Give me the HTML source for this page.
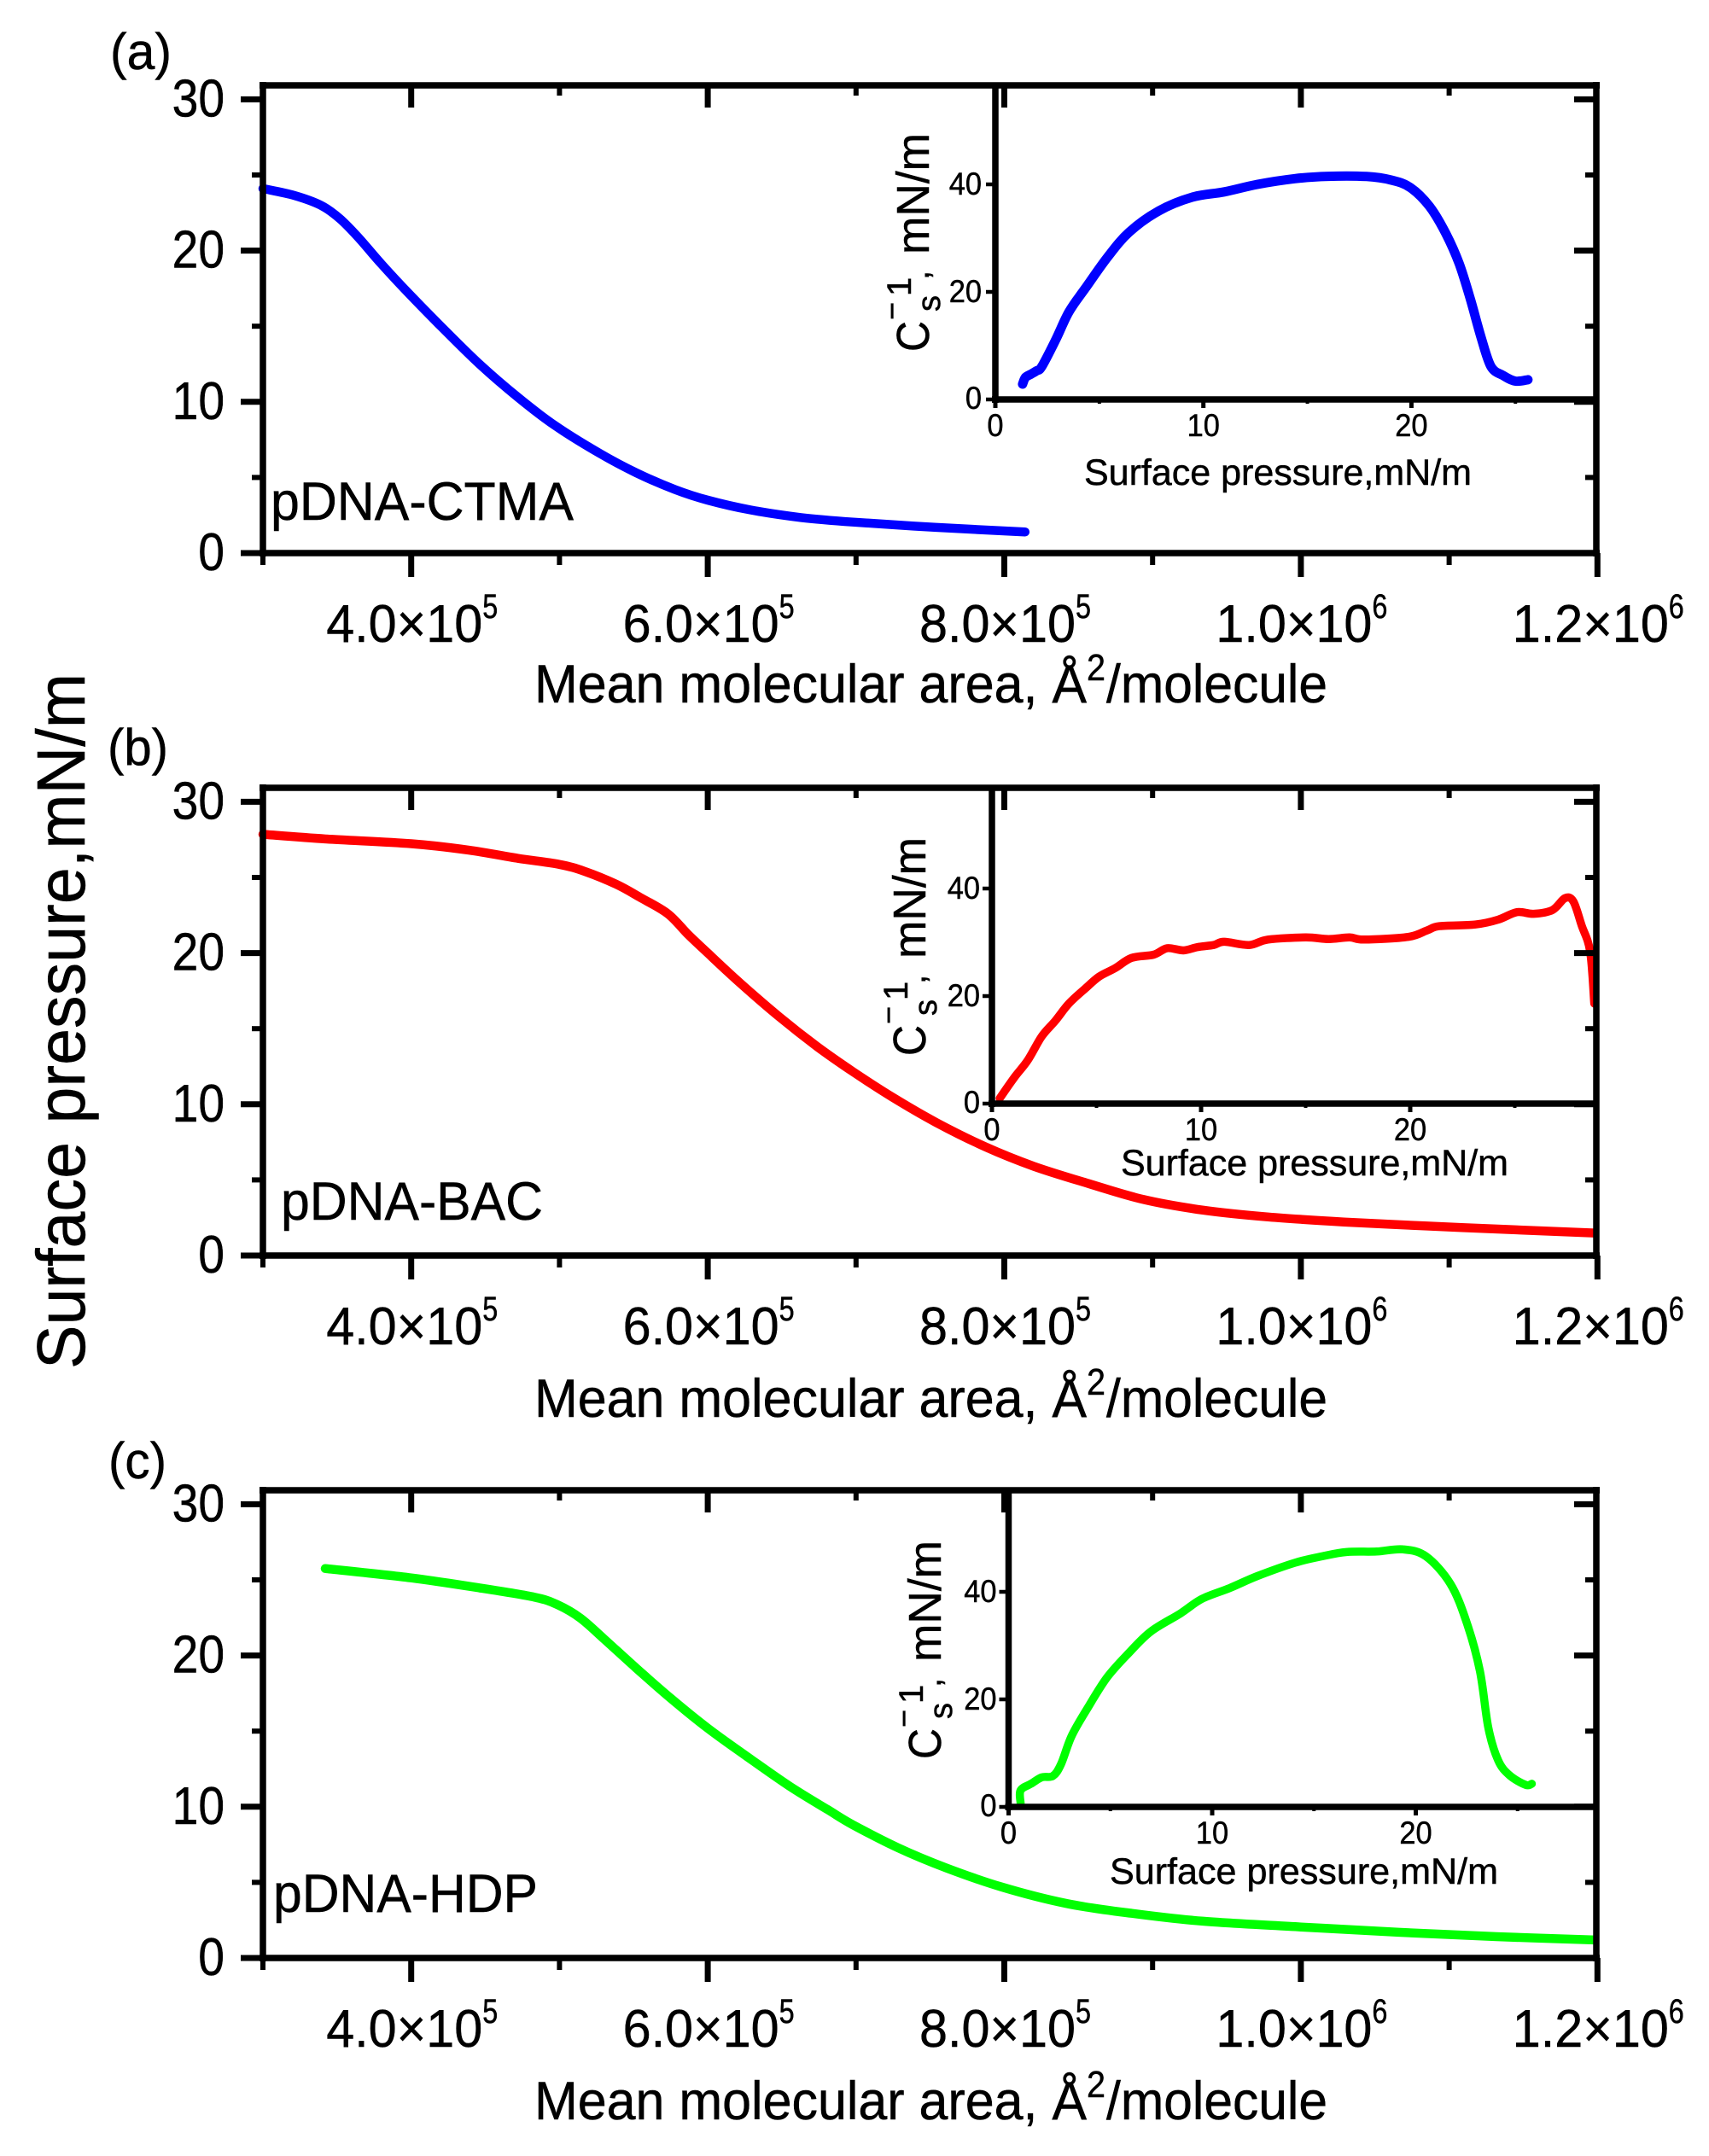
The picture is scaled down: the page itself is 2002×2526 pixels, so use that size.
<!DOCTYPE html>
<html lang="en">
<head>
<meta charset="utf-8">
<title>Surface pressure isotherms</title>
<style>
html,body{margin:0;padding:0;background:#fff;}
svg{display:block;}
text{font-family:"Liberation Sans",Arial,sans-serif;fill:#000;stroke:#000;stroke-width:0.5px;}
</style>
</head>
<body>
<svg id="figure" xmlns="http://www.w3.org/2000/svg" width="2002" height="2526" viewBox="0 0 2002 2526">
<rect x="0" y="0" width="2002" height="2526" fill="#fff"/>
</svg>
<script>
// ---------- data: main isotherms (mean molecular area, surface pressure) ----------
const areaA = [3.0e5,3.21e5,3.39e5,3.52e5,3.65e5,3.80e5,4.0e5,4.2e5,4.46e5,4.72e5,4.97e5,5.27e5,5.52e5,5.78e5,6.0e5,6.29e5,6.63e5,6.98e5,7.54e5,8.14e5];
const pressureA = [24.1,23.65,23.0,22.1,20.8,19.1,17.0,15.0,12.5,10.3,8.43,6.6,5.3,4.2,3.5,2.85,2.35,2.05,1.7,1.4];

const areaB = [3.0e5,3.43e5,4.0e5,4.39e5,4.72e5,5.0e5,5.17e5,5.38e5,5.54e5,5.73e5,5.87e5,6.0e5,6.22e5,6.48e5,6.74e5,6.98e5,7.24e5,7.54e5,7.87e5,8.2e5,8.57e5,8.94e5,9.34e5,9.78e5,10.29e5,10.85e5,11.4e5,11.98e5];
const pressureB = [27.85,27.54,27.23,26.8,26.26,25.86,25.4,24.56,23.7,22.6,21.2,20.0,18.0,15.8,13.8,12.15,10.5,8.8,7.2,5.9,4.75,3.7,3.0,2.55,2.22,1.95,1.72,1.49];

const areaC = [3.42e5,4.0e5,4.46e5,4.83e5,4.99e5,5.14e5,5.3e5,5.52e5,5.75e5,6.0e5,6.26e5,6.55e5,6.81e5,6.98e5,7.28e5,7.61e5,7.98e5,8.42e5,8.86e5,9.34e5,10.0e5,10.66e5,11.32e5,11.98e5];
const pressureC = [25.75,25.13,24.47,23.86,23.34,22.48,21.1,19.14,17.17,15.19,13.35,11.37,9.8,8.8,7.3,5.95,4.7,3.6,2.95,2.43,2.05,1.7,1.41,1.19];

// ---------- data: inset compression modulus (surface pressure, modulus) ----------
const insetPressureA = [1.31,1.44,1.71,1.97,2.23,2.89,3.54,4.33,5.38,6.43,7.87,9.45,11.0,12.6,14.4,16,17.85,19.03,19.95,20.87,21.65,22.3,22.83,23.36,23.83,24.4,24.99,25.6];
const insetModulusA = [2.85,4.07,4.7,5.3,6.1,11,16.3,20.7,26.4,31.1,35.1,37.6,38.6,40,41.06,41.5,41.46,40.8,39.4,35.9,30.9,25.2,18.7,11.4,6.1,4.47,3.41,3.66];

const insetPressureB = [0.37,1.07,1.72,2.38,3.03,3.68,4.46,5.12,5.9,6.68,7.73,8.38,9.16,9.82,10.6,11.1,12.3,13.2,15.0,16.1,17.1,17.8,19.9,20.8,21.4,23.1,24.2,25.1,25.9,26.8,27.4,27.8,28.2,28.6,28.8];
const insetModulusB = [0.97,4.85,8.1,12.5,15.4,18.6,21.4,23.6,25.2,27.1,27.7,28.9,28.5,29.1,29.5,30.1,29.5,30.5,30.9,30.6,30.9,30.5,31,32.2,33,33.3,34.2,35.6,35.3,36,38.2,37.6,33.1,28.3,18.6];

const insetPressureC = [0.59,0.59,1.1,1.63,2.17,2.57,3.1,3.9,4.84,5.9,6.98,8.45,9.5,10.86,12.2,14.06,15.4,16.6,18.07,19.36,20.5,21.7,22.5,23.15,23.56,24.04,24.6,25.4,25.7];
const insetModulusC = [0.65,3.08,4.3,5.5,5.75,7.9,13.2,18.5,24.1,28.6,32.6,36,38.7,40.7,42.9,45.4,46.6,47.4,47.5,47.9,46.6,41.5,34.3,25.3,14.8,8.7,5.9,4.1,4.3];

// ---------- data: ticks and labels ----------
const mainXMajor = [4e5,6e5,8e5,1e6,1.2e6];
const mainXMinor = [3e5,5e5,7e5,9e5,1.1e6];
const mainXMantissas = ['4.0×10','6.0×10','8.0×10','1.0×10','1.2×10'];
const mainXExponents = ['5','5','5','6','6'];
const mainYMajor = [0,10,20,30];
const mainYMinor = [5,15,25];
const mainYLabels = ['0','10','20','30'];
const insetXMajor = [0,10,20];
const insetXMinor = [5,15,25];
const insetXLabels = ['0','10','20'];
const insetYMajor = [0,20,40];
const insetYLabels = ['0','20','40'];

// ---------- layout ----------
const SVGNS = 'http://www.w3.org/2000/svg';
const figure = document.getElementById('figure');
const LEFT = 308, RIGHT = 1870;

function line(parent, x1, y1, x2, y2, w, name, cap) {
  const el = document.createElementNS(SVGNS, 'line');
  
  
  el.setAttribute('x1', x1);
  el.setAttribute('y1', y1);
  el.setAttribute('x2', x2);
  el.setAttribute('y2', y2);
  el.setAttribute('stroke', '#000');
  el.setAttribute('stroke-width', w);
  el.setAttribute('stroke-linecap', cap || 'butt');
  parent.appendChild(el);
  return el;
}

function text(parent, str, x, y, size, name, anchor, len, rot, sx) {
  const el = document.createElementNS(SVGNS, 'text');
  
  
  el.setAttribute('font-size', size);
  if (anchor) el.setAttribute('text-anchor', anchor);
  if (len) {
    el.setAttribute('textLength', len);
    el.setAttribute('lengthAdjust', 'spacingAndGlyphs');
  }
  let t = 'translate(' + x + ' ' + y + ')';
  if (rot) t += ' rotate(' + rot + ')';
  if (sx) t += ' scale(' + sx + ' 1)';
  el.setAttribute('transform', t);
  el.textContent = str;
  parent.appendChild(el);
  return el;
}

function group(parent, name) {
  const g = document.createElementNS(SVGNS, 'g');
  
  
  parent.appendChild(g);
  return g;
}

function curve(parent, xs, ys, sx, sy, color, width, name) {
  const pts = xs.map(function (v, i) { return [sx(v), sy(ys[i])]; });
  // Catmull-Rom smoothing through the sampled points
  let d = 'M' + pts[0][0].toFixed(1) + ' ' + pts[0][1].toFixed(1);
  for (let i = 0; i < pts.length - 1; i++) {
    const p0 = pts[Math.max(i - 1, 0)], p1 = pts[i], p2 = pts[i + 1], p3 = pts[Math.min(i + 2, pts.length - 1)];
    const c1x = p1[0] + (p2[0] - p0[0]) / 6, c1y = p1[1] + (p2[1] - p0[1]) / 6;
    const c2x = p2[0] - (p3[0] - p1[0]) / 6, c2y = p2[1] - (p3[1] - p1[1]) / 6;
    d += 'C' + c1x.toFixed(1) + ' ' + c1y.toFixed(1) + ' ' + c2x.toFixed(1) + ' ' + c2y.toFixed(1) + ' ' + p2[0].toFixed(1) + ' ' + p2[1].toFixed(1);
  }
  const el = document.createElementNS(SVGNS, 'path');
  
  
  el.setAttribute('d', d);
  el.setAttribute('fill', 'none');
  el.setAttribute('stroke', color);
  el.setAttribute('stroke-width', width);
  el.setAttribute('stroke-linecap', 'round');
  el.setAttribute('stroke-linejoin', 'round');
  parent.appendChild(el);
  return el;
}

function drawPanel(cfg) {
  const g = group(figure, cfg.id + '-panel');
  const xMain = function (v) { return LEFT + (v - 3e5) / 2e5 * 347.4; };
  const yMain = function (v) { return cfg.y0 - v * 17.72; };
  const top = cfg.top;

  // main curve
  curve(g, cfg.xs, cfg.ys, xMain, yMain, cfg.color, 10.5, cfg.id + '-main-curve');

  // inset background
  const ins = cfg.inset;
  const bg = document.createElementNS(SVGNS, 'rect');
  
  
  bg.setAttribute('x', ins.x0);
  bg.setAttribute('y', top);
  bg.setAttribute('width', RIGHT - ins.x0);
  bg.setAttribute('height', ins.y0 - top);
  bg.setAttribute('fill', '#fff');
  g.appendChild(bg);

  const xIns = function (v) { return ins.x0 + v * ins.xScale; };
  const yIns = function (v) { return ins.y0 - v * 6.3; };
  curve(g, ins.xs, ins.ys, xIns, yIns, cfg.color, ins.width, cfg.id + '-inset-curve');

  // inset axes
  line(g, ins.x0, top, ins.x0, ins.y0 + 4, 7.5, 'inset-y-axis');
  line(g, ins.x0 - 4, ins.y0, RIGHT, ins.y0, 7.5, 'inset-x-axis');
  insetYMajor.forEach(function (v, i) {
    line(g, ins.x0 - 11, yIns(v), ins.x0, yIns(v), 4.5, 'inset-y-tick');
    text(g, insetYLabels[i], ins.x0 - ins.yLabelGap, yIns(v) + (v === 0 ? 11 : 12), 37, 'inset-y-tick-label', 'end', null, null, 0.93);
  });
  insetXMajor.forEach(function (v, i) {
    line(g, xIns(v), ins.y0, xIns(v), ins.y0 + 10, 5, 'inset-x-tick');
    text(g, insetXLabels[i], xIns(v), ins.y0 + 43, 37, 'inset-x-tick-label', 'middle', null, null, 0.93);
  });
  insetXMinor.forEach(function (v) {
    line(g, xIns(v), ins.y0, xIns(v), ins.y0 + 5, 4, 'inset-x-minor-tick');
  });
  text(g, 'Surface pressure,mN/m', ins.titleX, ins.titleY, 43, 'inset-x-axis-title', 'start', ins.titleLen);

  // inset y-axis title
  const bx = ins.x0 + ins.ylabOffset, base = ins.y0 - 56;
  text(g, 'C', bx, base, 54, 'inset-y-title-symbol', 'start', 36, -90);
  text(g, '−', bx - 31, base - 37, 36, 'inset-y-title-minus', 'start', null, -90);
  text(g, '1', bx - 21, base - 65, 40, 'inset-y-title-exponent', 'start', null, -90);
  text(g, 's', bx + 13, base - 47, 38, 'inset-y-title-subscript', 'start', null, -90);
  text(g, ',', bx, base - 84, 40, 'inset-y-title-comma', 'start', null, -90);
  text(g, 'mN/m', bx, base - 114, 54, 'inset-y-title-unit', 'start', 142, -90);

  // main frame
  line(g, LEFT, top - 4, LEFT, cfg.y0 + 4, 7.5, 'left-spine');
  line(g, RIGHT, top - 4, RIGHT, cfg.y0 + 4, 7.5, 'right-spine');
  line(g, LEFT - 4, top, RIGHT + 4, top, 7.5, 'top-spine');
  line(g, LEFT - 4, cfg.y0, RIGHT + 4, cfg.y0, 7.5, 'bottom-spine');

  // main ticks
  mainYMajor.forEach(function (v, i) {
    line(g, LEFT - 26, yMain(v), LEFT, yMain(v), 7, 'y-major-tick');
    if (v > 0) line(g, RIGHT - 26, yMain(v), RIGHT, yMain(v), 7, 'right-major-tick');
    text(g, mainYLabels[i], 263, yMain(v) + 20, 62, 'y-tick-label', 'end', null, null, 0.89);
  });
  mainYMinor.forEach(function (v) {
    line(g, LEFT - 13, yMain(v), LEFT, yMain(v), 6, 'y-minor-tick');
    line(g, RIGHT - 13, yMain(v), RIGHT, yMain(v), 6, 'right-minor-tick');
  });
  mainXMajor.forEach(function (v, i) {
    const x = xMain(v);
    line(g, x, cfg.y0, x, cfg.y0 + 28, 7, 'x-major-tick');
    if (v < 1.2e6) line(g, x, top, x, top + 26, 7, 'top-major-tick');
    const sx = x - 99.5;
    text(g, mainXMantissas[i], sx, cfg.y0 + 104, 62, 'x-tick-label', 'start', 183);
    text(g, mainXExponents[i], sx + 183, cfg.y0 + 76, 40, 'x-tick-exponent', 'start', 18);
  });
  mainXMinor.forEach(function (v) {
    const x = xMain(v);
    line(g, x, cfg.y0, x, cfg.y0 + 14, 6, 'x-minor-tick');
    if (v > 3e5) line(g, x, top, x, top + 12, 6, 'top-minor-tick');
  });

  // main x-axis title
  const ty = cfg.titleY;
  text(g, 'Mean molecular area, Å', 626, ty, 63, 'x-axis-title', 'start', 647);
  text(g, '2', 1273, ty - 26, 44, 'x-axis-title-exponent', 'start', 22);
  text(g, '/molecule', 1296, ty, 63, 'x-axis-title-unit', 'start', 259);

  // annotations
  text(g, cfg.panelLabel, cfg.panelX, cfg.panelY, 60, 'panel-label', 'start', cfg.panelLen);
  text(g, cfg.sample, cfg.sampleX, cfg.sampleY, 63, 'sample-label', 'start', cfg.sampleLen);
}

drawPanel({
  id: 'ctma', color: '#0000ff', top: 100, y0: 648, titleY: 823,
  xs: areaA, ys: pressureA,
  panelLabel: '(a)', panelX: 129, panelY: 81, panelLen: 72,
  sample: 'pDNA-CTMA', sampleX: 317, sampleY: 609, sampleLen: 355,
  inset: { x0: 1166, y0: 468, xScale: 24.37, xs: insetPressureA, ys: insetModulusA, width: 11,
           yLabelGap: 16, titleX: 1270, titleY: 568, titleLen: 454, ylabOffset: -78 }
});

drawPanel({
  id: 'bac', color: '#ff0000', top: 923, y0: 1471, titleY: 1660,
  xs: areaB, ys: pressureB,
  panelLabel: '(b)', panelX: 126, panelY: 896, panelLen: 71,
  sample: 'pDNA-BAC', sampleX: 329, sampleY: 1429, sampleLen: 307,
  inset: { x0: 1162, y0: 1293, xScale: 24.5, xs: insetPressureB, ys: insetModulusB, width: 9.5,
           yLabelGap: 14, titleX: 1313, titleY: 1377, titleLen: 454, ylabOffset: -78 }
});

drawPanel({
  id: 'hdp', color: '#00ff00', top: 1746, y0: 2294, titleY: 2483,
  xs: areaC, ys: pressureC,
  panelLabel: '(c)', panelX: 127, panelY: 1732, panelLen: 68,
  sample: 'pDNA-HDP', sampleX: 320, sampleY: 2240, sampleLen: 310,
  inset: { x0: 1181.5, y0: 2117, xScale: 23.85, xs: insetPressureC, ys: insetModulusC, width: 9.5,
           yLabelGap: 14, titleX: 1300, titleY: 2207, titleLen: 455, ylabOffset: -79.5 }
});

text(figure, 'Surface pressure,mN/m', 99, 1604, 80, 'y-axis-title', 'start', 815, -90);
</script>
</body>
</html>
